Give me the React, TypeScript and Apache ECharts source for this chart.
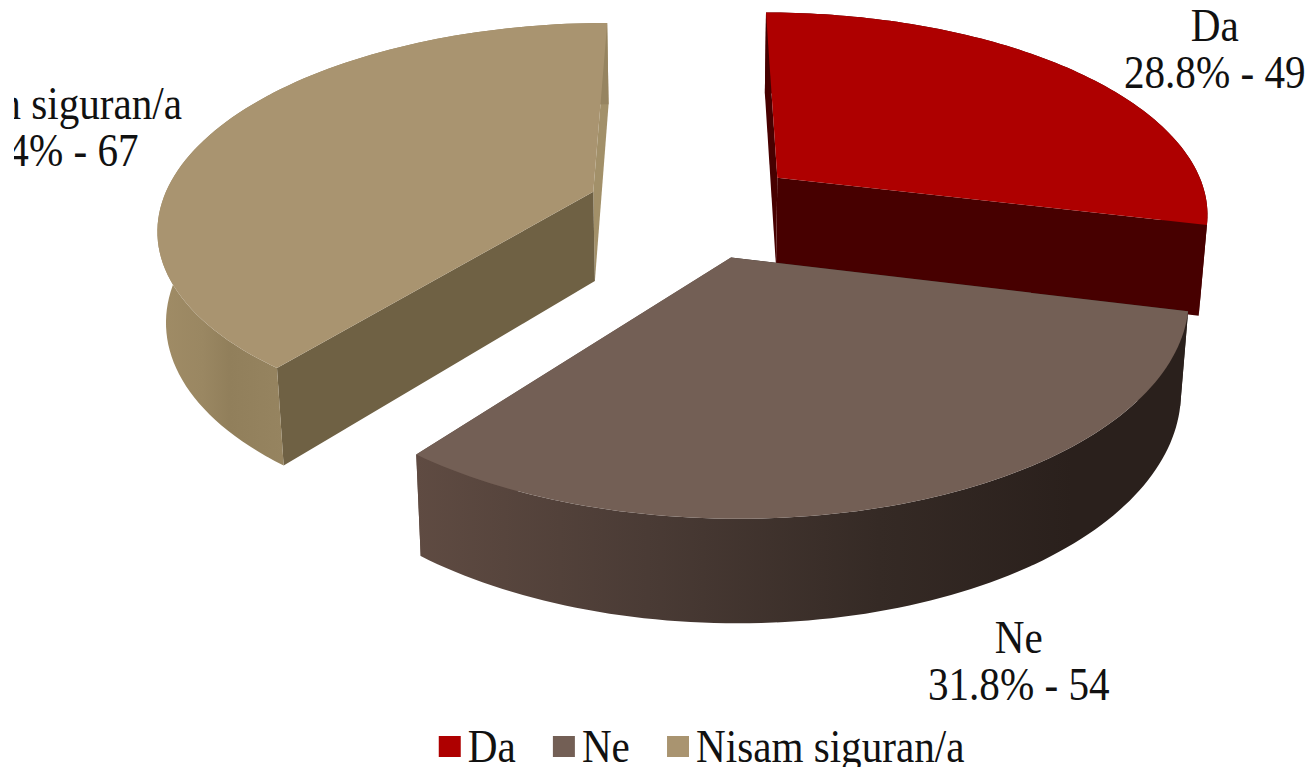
import React, { useEffect, useRef } from "react";
import * as echarts from "echarts";

const categories = ["Da", "Ne", "Nisam siguran/a"];
const counts = [49, 54, 67];
const topColors = ["#AE0000", "#735F55", "#A99470"];

const TEXT_SQUEEZE = 0.875;
const WIDTH = 1315 / TEXT_SQUEEZE;
const total = counts.reduce((a, b) => a + b, 0);

// perspective camera fitted to the picture (radius = 1)
const cam = { cx: 692.5, horizon: -1033, H: 1241, A: 433, k: 0.162, dropBase: 32, dropNear: 58, taper: 0.016, explode: 0.25 };

const looks = [
  { startWall: "#470000", endWall: "#470000", outer: [[0, "#470000"], [1, "#470000"]], label: [1213, 49] },
  {
    startWall: "#2A201C",
    endWall: "#5E4A41",
    outer: [[0, "#5F4B42"], [0.3, "#4A3B35"], [0.6, "#352A25"], [0.85, "#2A201C"], [1, "#2A201C"]],
    label: [1017, 661],
  },
  {
    startWall: "#6F6144",
    endWall: "#A29069",
    outer: [[0, "#A08C66"], [0.1, "#9A8762"], [0.16, "#917F5B"], [0.28, "#968460"], [1, "#968460"]],
    label: [46, 127],
  },
];

function project(X: number, Y: number, z: number) {
  const w = 1 + cam.k * Y;
  const x = cam.cx + ((cam.A * X) / w) * (1 - cam.taper * z);
  const y = cam.horizon + cam.H / w + z * (cam.dropBase + cam.dropNear / w);
  return [x / TEXT_SQUEEZE, y];
}

function renderSlice(index: number) {
  const before = counts.slice(0, index).reduce((a, b) => a + b, 0);
  const a0 = (before / total) * Math.PI * 2;
  const a1 = ((before + counts[index]) / total) * Math.PI * 2;
  const mid = (a0 + a1) / 2;
  const ox = Math.sin(mid) * cam.explode;
  const oy = Math.cos(mid) * cam.explode;
  const look = looks[index];
  const n = 90;

  const arc = (z: number) => {
    const pts: number[][] = [];
    for (let i = 0; i <= n; i++) {
      const t = a0 + ((a1 - a0) * i) / n;
      pts.push(project(ox + Math.sin(t), oy + Math.cos(t), z));
    }
    return pts;
  };
  const topArc = arc(0);
  const botArc = arc(1);
  const apexTop = project(ox, oy, 0);
  const apexBot = project(ox, oy, 1);
  const xs = topArc.map((p) => p[0]);

  const poly = (points: number[][], fill: unknown) => ({
    type: "polygon",
    shape: { points },
    style: { fill, stroke: "none" },
    silent: true,
  });

  const pct = ((counts[index] / total) * 100).toFixed(1);
  return {
    type: "group",
    children: [
      poly([apexTop, topArc[n], botArc[n], apexBot], look.endWall),
      poly([apexTop, topArc[0], botArc[0], apexBot], look.startWall),
      poly([...topArc, ...[...botArc].reverse()], {
        type: "linear",
        x: Math.min(...xs),
        y: 0,
        x2: Math.max(...xs),
        y2: 0,
        global: true,
        colorStops: look.outer.map(([offset, color]) => ({ offset, color })),
      }),
      poly([apexTop, ...topArc], topColors[index]),
      {
        type: "text",
        x: look.label[0] / TEXT_SQUEEZE,
        y: look.label[1],
        style: {
          text: `${categories[index]}\n${pct}% - ${counts[index]}`,
          font: '47px "Liberation Serif"',
          fill: "#111",
          align: "center",
          verticalAlign: "middle",
          lineHeight: 47,
        },
        silent: true,
      },
    ],
  };
}

export default function App() {
  const ref = useRef<HTMLDivElement>(null);
  useEffect(() => {
    const chart = echarts.init(ref.current!, undefined, { renderer: "svg" });
    chart.setOption({
      animation: false,
      color: topColors,
      legend: {
        data: categories,
        selectedMode: false,
        icon: "rect",
        left: 437 / TEXT_SQUEEZE,
        top: 723,
        padding: 0,
        itemWidth: 22 / TEXT_SQUEEZE,
        itemHeight: 21,
        itemGap: 42.5,
        textStyle: { fontFamily: "Liberation Serif", fontSize: 47, lineHeight: 40, color: "#111", padding: [0, 0, 0, 3] },
      },
      series: categories.map((name, i) => ({
        type: "custom",
        name,
        coordinateSystem: "none",
        z: i === 1 ? 4 : 2,
        data: [[counts[i]]],
        renderItem: () => renderSlice(i),
      })),
    });
    return () => chart.dispose();
  }, []);
  return (
    <div style={{ position: "fixed", left: 14, top: 0, width: 1301, height: 767, overflow: "hidden", background: "#fff" }}>
      <div
        ref={ref}
        style={{
          position: "absolute",
          left: -14,
          top: 0,
          width: WIDTH,
          height: 767,
          transform: `scaleX(${TEXT_SQUEEZE})`,
          transformOrigin: "14px 0",
        }}
      />
    </div>
  );
}
